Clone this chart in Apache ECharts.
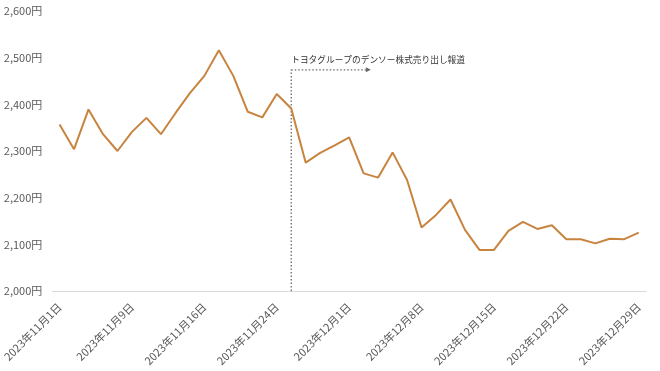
<!DOCTYPE html>
<html><head><meta charset="utf-8">
<script src="https://cdn.jsdelivr.net/npm/echarts@6/dist/echarts.min.js"></script>
<style>html,body{margin:0;padding:0;background:#fff}#c{width:660px;height:371px}</style>
</head><body><div id="c"></div>
<script>
const dates = [
 '2023年11月1日','2023年11月2日','2023年11月6日','2023年11月7日','2023年11月8日','2023年11月9日','2023年11月10日',
 '2023年11月13日','2023年11月14日','2023年11月15日','2023年11月16日','2023年11月17日',
 '2023年11月20日','2023年11月21日','2023年11月22日','2023年11月24日',
 '2023年11月27日','2023年11月28日','2023年11月29日','2023年11月30日','2023年12月1日',
 '2023年12月4日','2023年12月5日','2023年12月6日','2023年12月7日','2023年12月8日',
 '2023年12月11日','2023年12月12日','2023年12月13日','2023年12月14日','2023年12月15日',
 '2023年12月18日','2023年12月19日','2023年12月20日','2023年12月21日','2023年12月22日',
 '2023年12月25日','2023年12月26日','2023年12月27日','2023年12月28日','2023年12月29日'
];
const prices = [
 2357,2304,2389,2336,2300,2341,2371,2336,2381,2424,2461,2516,
 2461,2384,2372,2422,2391,2275,2296,2312,2329,
 2252,2243,2297,2238,2136,2163,2196,2131,2088,2088,
 2129,2148,2133,2141,2111,2111,2102,2112,2111,2125
];
const yTicks = [2000, 2600, 100];
const annotationText = 'トヨタグループのデンソー株式売り出し報道';
const annotationIndex = 16;
const annotationLevel = 2474;
const arrowEndIndex = 21.5;

const chart = echarts.init(document.getElementById('c'));
const font = '"Noto Sans CJK JP", "Noto Sans", sans-serif';
chart.setOption({
  animation: false,
  backgroundColor: '#fff',
  grid: {left: 52, right: 14, top: 11, bottom: 80},
  xAxis: {
    type: 'category', data: dates, boundaryGap: true,
    axisLine: {lineStyle: {color: '#d9d9d9', width: 1}},
    axisTick: {show: false},
    axisLabel: {interval: 4, rotate: 45, color: '#595959', fontSize: 11, fontFamily: font, margin: 14}
  },
  yAxis: {
    type: 'value', min: yTicks[0], max: yTicks[1], interval: yTicks[2],
    splitLine: {show: false}, axisLine: {show: false}, axisTick: {show: false},
    axisLabel: {color: '#595959', fontSize: 11, fontFamily: font, margin: 10,
      formatter: v => v.toLocaleString('en-US') + '円'}
  },
  series: [{
    type: 'line', data: prices, symbol: 'none',
    lineStyle: {color: '#C8843E', width: 2}
  }]
});

function px(i, v) {
  const lo = Math.floor(i), hi = Math.ceil(i);
  const a = chart.convertToPixel({xAxisIndex: 0, yAxisIndex: 0}, [lo, v]);
  const b = chart.convertToPixel({xAxisIndex: 0, yAxisIndex: 0}, [hi, v]);
  const t = i - lo;
  return [a[0] + (b[0] - a[0]) * t, a[1]];
}
const pBase = px(annotationIndex, yTicks[0]);
const pTop = px(annotationIndex, annotationLevel);
const pEnd = px(arrowEndIndex, annotationLevel);
chart.setOption({
  graphic: [
    {type: 'line', shape: {x1: pBase[0], y1: pBase[1], x2: pTop[0], y2: pTop[1]},
     style: {stroke: '#6b6b6b', lineWidth: 1.3, lineDash: [1.5, 2]}},
    {type: 'line', shape: {x1: pTop[0], y1: pTop[1], x2: pEnd[0] - 4, y2: pEnd[1]},
     style: {stroke: '#6b6b6b', lineWidth: 1.3, lineDash: [1.5, 2]}},
    {type: 'polygon', shape: {points: [[pEnd[0], pEnd[1]], [pEnd[0] - 5, pEnd[1] - 2.5], [pEnd[0] - 5, pEnd[1] + 2.5]]},
     style: {fill: '#6b6b6b'}},
    {type: 'text', x: pTop[0], y: pTop[1] - 10,
     style: {text: annotationText, fill: '#333', font: '8.7px ' + font, verticalAlign: 'middle'}}
  ]
});
</script></body></html>
